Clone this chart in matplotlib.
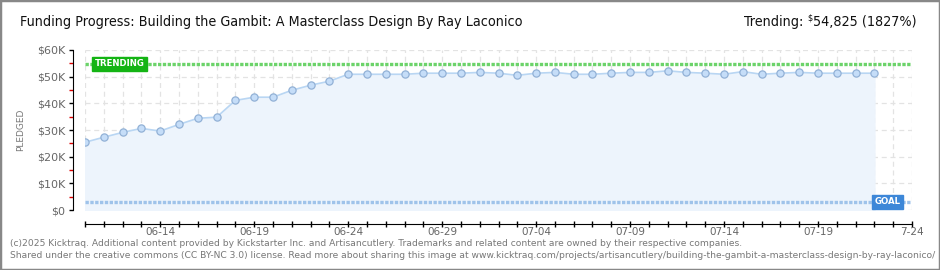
import matplotlib
matplotlib.use('Agg')
import matplotlib.pyplot as plt
from matplotlib.patches import Rectangle
import numpy as np

# daily pledged totals (USD), 06-10 .. 07-22
pledged = [25400, 27300, 29100, 30600, 29600, 32100, 34400, 34800, 41100, 42300,
           42300, 44900, 46800, 48300, 50900, 50900, 50900, 50900, 51300, 51300,
           51300, 51600, 51300, 50500, 51300, 51600, 50900, 50900, 51300, 51600,
           51600, 52200, 51600, 51300, 50900, 51900, 50900, 51300, 51600, 51300,
           51300, 51300, 51300]
n_days = 45  # 06-10 .. 07-24
tick_dates = ['06-14', '06-19', '06-24', '06-29', '07-04', '07-09', '07-14', '07-19', '7-24']
tick_days = [4, 9, 14, 19, 24, 29, 34, 39, 44]
goal = 3000
trending = 54825
ylabels = ['$0', '$10K', '$20K', '$30K', '$40K', '$50K', '$60K']

W, H = 940, 270
fig = plt.figure(figsize=(W / 100, H / 100), dpi=100)
ax = fig.add_axes([85 / W, 60 / H, 827 / W, 160 / H])

days = np.arange(len(pledged))
ax.fill_between(days, 0, pledged, color='#edf4fc', zorder=1)
ax.plot(days, pledged, color='#b9d6f3', lw=1.2, zorder=3)
ax.plot(days, pledged, 'o', ms=5.2, mfc='#c5ddf8', mec='#92b1d6', mew=0.9, zorder=4)

ax.axhline(trending, color='#6cd36a', lw=2.4, ls=(0, (1, 0.45)), zorder=2)
ax.axhline(goal, color='#9fc3ea', lw=2.4, ls=(0, (1, 0.45)), zorder=2)

ax.text(0.5, trending, 'TRENDING', ha='left', va='center', color='white', fontsize=6.2,
        fontweight='bold', zorder=5,
        bbox=dict(boxstyle='square,pad=0.3', fc='#14b414', ec='#14b414'))
ax.text(len(pledged) - 1, goal, 'GOAL', ha='left', va='center', color='white', fontsize=6.2,
        fontweight='bold', zorder=5,
        bbox=dict(boxstyle='square,pad=0.3', fc='#3d87d8', ec='#3d87d8'))

ax.set_xlim(0, n_days - 1)
ax.set_ylim(0, 60000)

ax.set_xticks(np.arange(n_days))
labs = [''] * n_days
for d, t in zip(tick_days, tick_dates):
    labs[d] = t
ax.set_xticklabels(labs)
ax.set_yticks(np.arange(0, 60001, 10000))
ax.set_yticklabels(ylabels)
ax.set_yticks(np.arange(5000, 60000, 10000), minor=True)

ax.grid(True, which='major', color='#e3e3e3', ls=(0, (4, 3)), lw=0.9, zorder=0)
ax.set_axisbelow(True)

for s in ['top', 'right']:
    ax.spines[s].set_visible(False)
ax.spines['left'].set_position(('outward', 9))
ax.spines['bottom'].set_position(('outward', 10))
ax.spines['left'].set_bounds(0, 60000)
ax.tick_params(axis='y', which='major', length=3, width=1, colors='black', labelcolor='#666666',
               labelsize=8, pad=2)
ax.tick_params(axis='y', which='minor', length=3, width=1, color='#dd0000')
ax.tick_params(axis='x', length=4, width=1, direction='inout', labelcolor='#666666', labelsize=7.5, pad=0)

ax.set_ylabel('PLEDGED', fontsize=6.5, color='#777777', labelpad=9)

fig.text(20 / W, 1 - 22 / H, 'Funding Progress: Building the Gambit: A Masterclass Design By Ray Laconico',
         ha='left', va='center', fontsize=10.3, color='#111111', fontstretch='condensed')

# right header: "Trending:  $54,825 (1827%)" with small raised dollar sign
r = fig.canvas.get_renderer()
t1 = fig.text(917 / W, 1 - 22 / H, '54,825 (1827%)', ha='right', va='center', fontsize=10.3,
              color='#111111', fontstretch='condensed')
bb = t1.get_window_extent(r)
t2 = fig.text(bb.x0 / W - 1 / W, 1 - 18 / H, r'\$', ha='right', va='center', fontsize=6.5,
              color='#111111', fontstretch='condensed')
bb2 = t2.get_window_extent(r)
fig.text(bb2.x0 / W - 4 / W, 1 - 22 / H, 'Trending:', ha='right', va='center', fontsize=10.3,
         color='#111111', fontstretch='condensed')

foot1 = ('(c)2025 Kicktraq. Additional content provided by Kickstarter Inc. and Artisancutlery. '
         'Trademarks and related content are owned by their respective companies.')
foot2 = ('Shared under the creative commons (CC BY-NC 3.0) license. Read more about sharing this image at '
         'www.kicktraq.com/projects/artisancutlery/building-the-gambit-a-masterclass-design-by-ray-laconico/')
fig.text(10 / W, 1 - 243 / H, foot1, ha='left', va='center', fontsize=6.6, color='#777777')
fig.text(10 / W, 1 - 256 / H, foot2, ha='left', va='center', fontsize=6.6, color='#777777')

fig.patches.append(Rectangle((0, 0), 1, 1, transform=fig.transFigure, fill=False,
                             ec='#888888', lw=2.5, zorder=10))

fig.savefig('out.png', dpi=100)
